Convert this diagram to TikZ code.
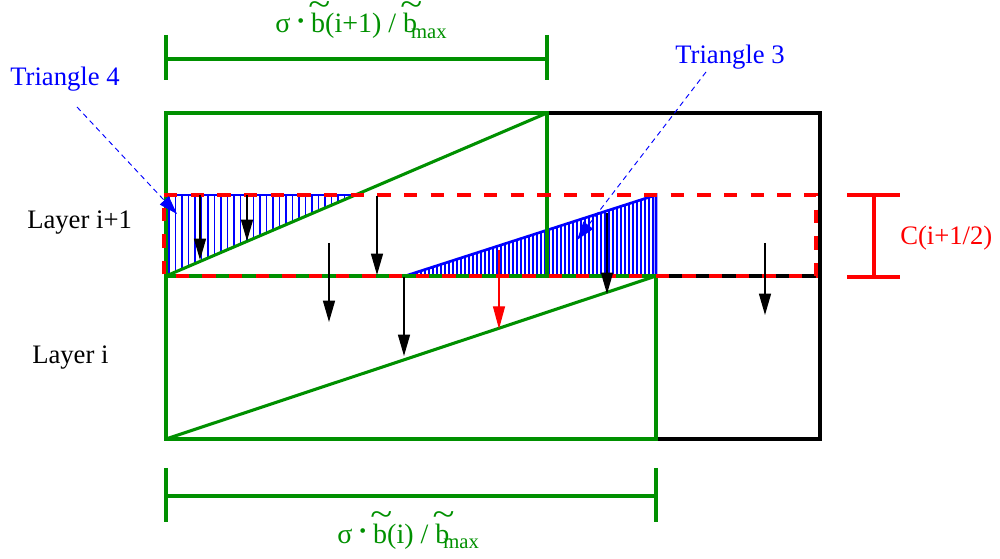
\documentclass[tikz,border=0pt]{standalone}
\usepackage{fontspec}
\setmainfont{Liberation Serif}
\usetikzlibrary{arrows.meta}
\definecolor{xgreen}{RGB}{0,144,0}
\newcommand\tilb{\makebox[0pt][l]{\hspace{-0.1em}\raisebox{0.62em}{\scalebox{1.45}[1.2]{\textasciitilde}}}b}
\newcommand\mysub[1]{\hspace{-0.22em}\raisebox{-0.2em}{\fontsize{15.5}{18}\selectfont #1}}
\newcommand\mydot{\raisebox{0.18em}{\scalebox{0.7}{•}}}
\begin{document}
\begin{tikzpicture}[x=0.75pt,y=-0.75pt,
  lbl/.style={anchor=base west,inner sep=0pt,font=\fontsize{20}{24}\selectfont},
  dimlbl/.style={anchor=base west,inner sep=0pt,text=xgreen,font=\fontsize{21}{24}\selectfont},
  grn/.style={draw=xgreen,line width=2.3pt},
  blk/.style={draw=black,line width=2.3pt},
  reddash/.style={draw=red,line width=3pt,dash pattern=on 10pt off 10pt},
  hatch/.style={draw=blue,line width=0.8pt},
  fall/.style={draw=black,line width=1pt,-{Triangle[length=16pt,width=9pt]}},
  fallred/.style={draw=red,line width=1pt,-{Triangle[length=17pt,width=9pt]}},
  pointer/.style={draw=blue,line width=0.7pt,dash pattern=on 4pt off 3pt,-{Triangle[length=14pt,width=9pt]}}]
\useasboundingbox (0,0) rectangle (1000,559);
% key points
\coordinate (A) at (166,113);
\coordinate (B) at (547,113);
\coordinate (C) at (820,113);
\coordinate (D) at (166,276);
\coordinate (E) at (547,276);
\coordinate (F) at (656,276);
\coordinate (G) at (820,276);
\coordinate (H) at (166,439);
\coordinate (I) at (656,439);
\coordinate (J) at (820,439);
\coordinate (T4a) at (166,195);
\coordinate (T4b) at (355,195);
\coordinate (T3a) at (405,276);
\coordinate (T3b) at (656,195);
% hatching triangle 4
\foreach \x in {169,175.5,...,352} \draw[hatch] (\x,195) -- (\x,{276-(\x-166)/381*163});
% hatching triangle 3
\foreach \x in {409,413,...,653} \draw[hatch] (\x,276) -- (\x,{276-(\x-405)/251*81});
\draw[draw=blue,line width=1.5pt] (T4a) -- (T4b);
\draw[draw=blue,line width=2pt] (T3a) -- (T3b) -- (F);
% black frame
\draw[blk] (B) -- (C) -- (J) -- (I);
\draw[blk] (F) -- (G);
% green boxes
\draw[grn] (A) rectangle (E);
\draw[grn] (D) rectangle (I);
\draw[grn] (D) -- (B);
\draw[grn] (H) -- (F);
% red dashed layer
\draw[reddash] (164,195) -- (816,195) -- (816,276) -- (164,276) -- cycle;
% dimension lines
\coordinate (d1a) at (166,59); \coordinate (d1b) at (547,59);
\draw[grn] (d1a) -- (d1b);
\draw[grn] (166,35) -- (166,80);
\draw[grn] (547,35) -- (547,80);
\coordinate (d2a) at (166,496); \coordinate (d2b) at (656,496);
\draw[grn] (d2a) -- (d2b);
\draw[grn] (166,468) -- (166,522);
\draw[grn] (656,468) -- (656,522);
% C bracket
\draw[draw=red,line width=3pt] (847,195) -- (900,195);
\draw[draw=red,line width=3pt] (847,277) -- (900,277);
\draw[draw=red,line width=3pt] (874,195) -- (874,277);
% falling arrows
\coordinate (a1s) at (200,195); \coordinate (a1e) at (200,260);
\coordinate (a2s) at (247,195); \coordinate (a2e) at (247,241);
\coordinate (a3s) at (377,196); \coordinate (a3e) at (377,275);
\coordinate (a4s) at (329,243); \coordinate (a4e) at (329,322);
\coordinate (a5s) at (404,277); \coordinate (a5e) at (404,356);
\coordinate (a6s) at (499,250); \coordinate (a6e) at (499,329);
\coordinate (a7s) at (607,213); \coordinate (a7e) at (607,294);
\coordinate (a8s) at (765,243); \coordinate (a8e) at (765,315);
\draw[fall] (a1s) -- (a1e);
\draw[fall] (a2s) -- (a2e);
\draw[fall] (a3s) -- (a3e);
\draw[fall] (a4s) -- (a4e);
\draw[fall] (a5s) -- (a5e);
\draw[fallred] (a6s) -- (a6e);
\draw[fall] (a7s) -- (a7e);
\draw[fall] (a8s) -- (a8e);
% labels
\node[lbl,text=blue] (t4) at (10,86) {Triangle 4};
\node[lbl,text=blue] (t3) at (675,64) {Triangle 3};
\coordinate (p4s) at (77,107); \coordinate (p4e) at (177,214);
\coordinate (p3s) at (706,72); \coordinate (p3e) at (577,240);
\draw[pointer] (p4s) -- (p4e);
\draw[pointer] (p3s) -- (p3e);
\node[lbl] (L1) at (27,229) {Layer i+1};
\node[lbl] (L0) at (32,364) {Layer i};
\node[lbl,text=red] (Cl) at (900,245) {C(i+1/2)};
\node[dimlbl] (top) at (275,33) {σ \mydot\ \tilb(i+1) / \tilb\mysub{max}};
\node[dimlbl] (bot) at (337,543) {σ \mydot\ \tilb(i) / \tilb\mysub{max}};
\end{tikzpicture}
\end{document}
